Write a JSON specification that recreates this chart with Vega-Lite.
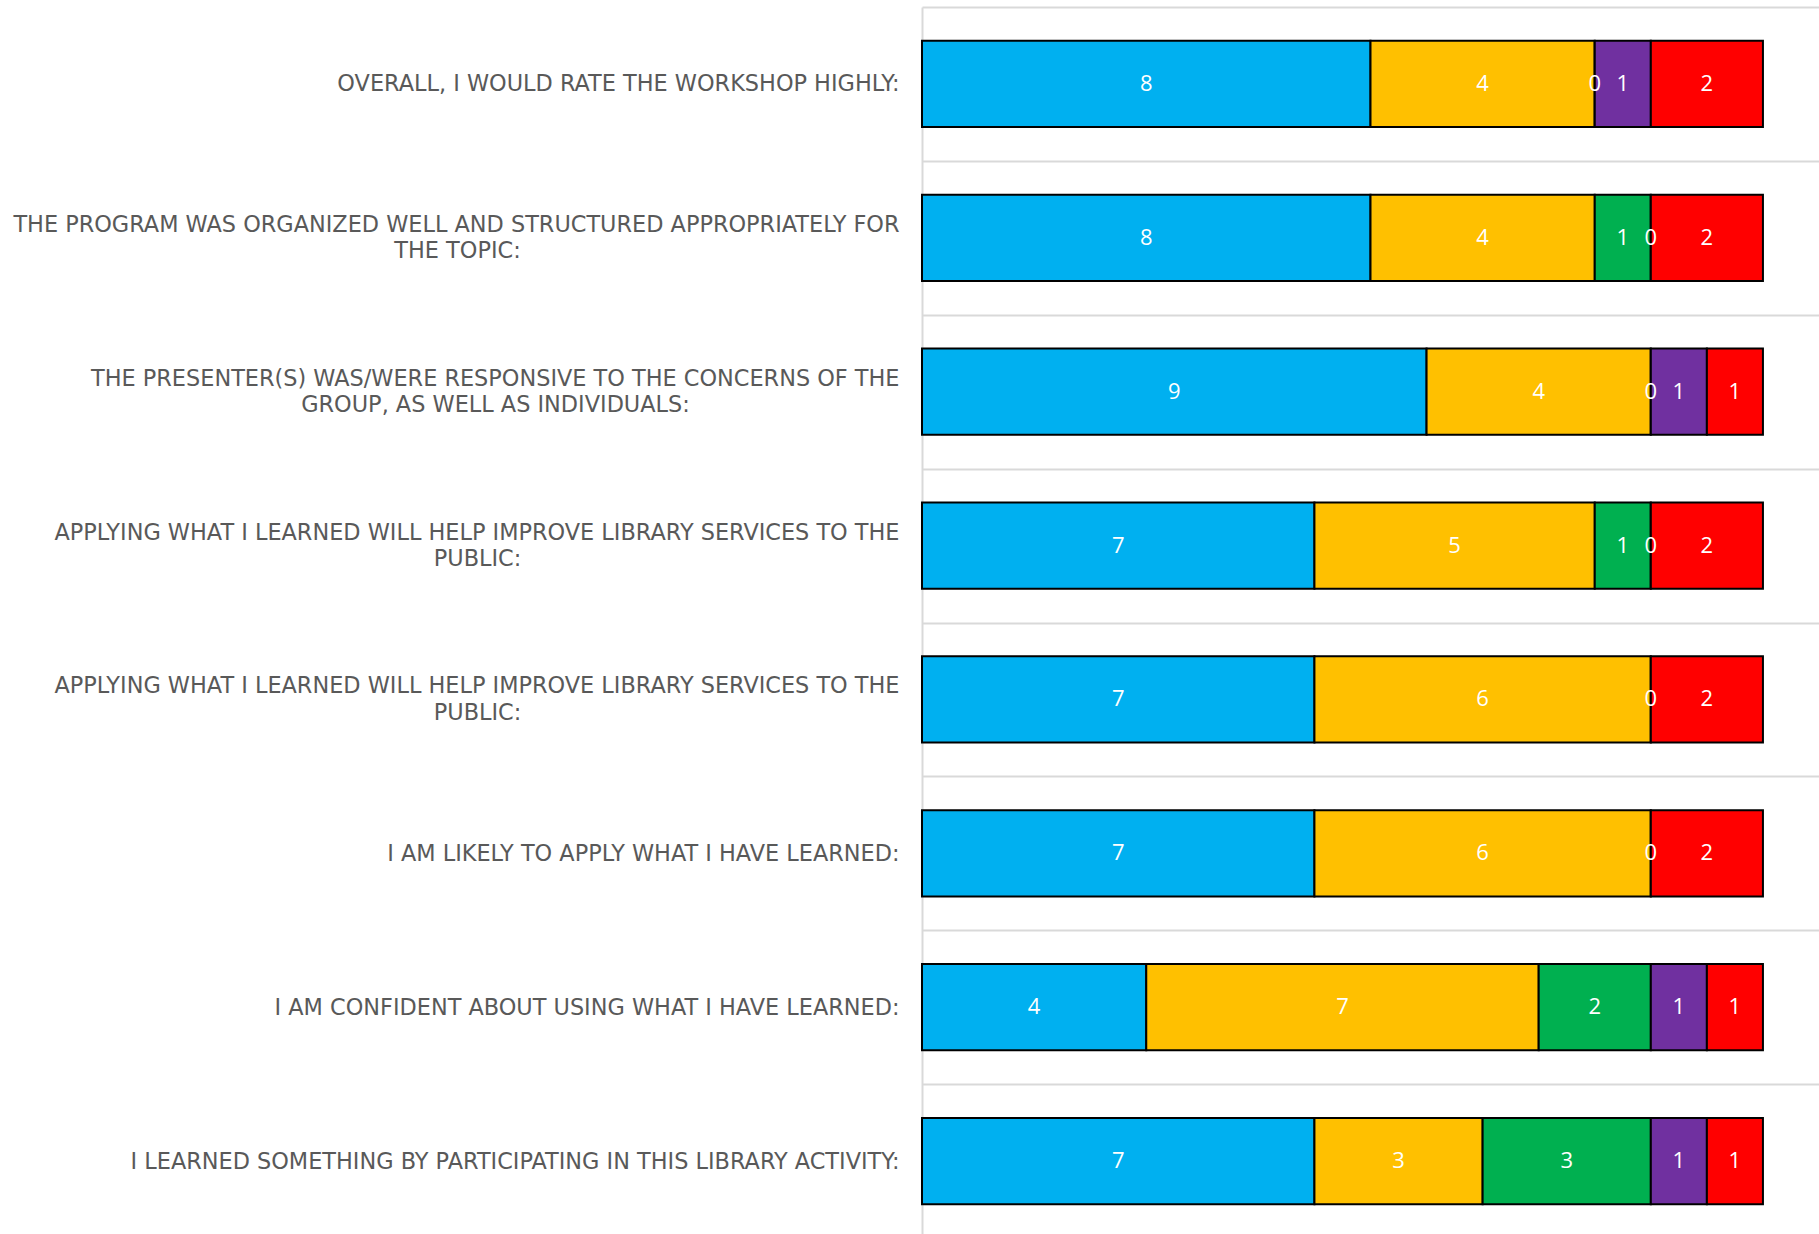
{
  "$schema": "https://vega.github.io/schema/vega-lite/v6.json",
  "autosize": {"type": "none"},
  "padding": {"left": 922, "top": 7, "right": 0, "bottom": 0},
  "width": 897,
  "height": 1231,
  "background": "white",
  "config": {"view": {"stroke": null}},
  "data": {
    "values": [
      {"row": 1, "rating": "Strongly agree", "order": 1, "value": 8},
      {"row": 1, "rating": "Agree", "order": 2, "value": 4},
      {"row": 1, "rating": "Neutral", "order": 3, "value": 0},
      {"row": 1, "rating": "Disagree", "order": 4, "value": 1},
      {"row": 1, "rating": "Strongly disagree", "order": 5, "value": 2},
      {"row": 2, "rating": "Strongly agree", "order": 1, "value": 8},
      {"row": 2, "rating": "Agree", "order": 2, "value": 4},
      {"row": 2, "rating": "Neutral", "order": 3, "value": 1},
      {"row": 2, "rating": "Disagree", "order": 4, "value": 0},
      {"row": 2, "rating": "Strongly disagree", "order": 5, "value": 2},
      {"row": 3, "rating": "Strongly agree", "order": 1, "value": 9},
      {"row": 3, "rating": "Agree", "order": 2, "value": 4},
      {"row": 3, "rating": "Neutral", "order": 3, "value": 0},
      {"row": 3, "rating": "Disagree", "order": 4, "value": 1},
      {"row": 3, "rating": "Strongly disagree", "order": 5, "value": 1},
      {"row": 4, "rating": "Strongly agree", "order": 1, "value": 7},
      {"row": 4, "rating": "Agree", "order": 2, "value": 5},
      {"row": 4, "rating": "Neutral", "order": 3, "value": 1},
      {"row": 4, "rating": "Disagree", "order": 4, "value": 0},
      {"row": 4, "rating": "Strongly disagree", "order": 5, "value": 2},
      {"row": 5, "rating": "Strongly agree", "order": 1, "value": 7},
      {"row": 5, "rating": "Agree", "order": 2, "value": 6},
      {"row": 5, "rating": "Neutral", "order": 3, "value": 0},
      {"row": 5, "rating": "Strongly disagree", "order": 5, "value": 2},
      {"row": 6, "rating": "Strongly agree", "order": 1, "value": 7},
      {"row": 6, "rating": "Agree", "order": 2, "value": 6},
      {"row": 6, "rating": "Neutral", "order": 3, "value": 0},
      {"row": 6, "rating": "Strongly disagree", "order": 5, "value": 2},
      {"row": 7, "rating": "Strongly agree", "order": 1, "value": 4},
      {"row": 7, "rating": "Agree", "order": 2, "value": 7},
      {"row": 7, "rating": "Neutral", "order": 3, "value": 2},
      {"row": 7, "rating": "Disagree", "order": 4, "value": 1},
      {"row": 7, "rating": "Strongly disagree", "order": 5, "value": 1},
      {"row": 8, "rating": "Strongly agree", "order": 1, "value": 7},
      {"row": 8, "rating": "Agree", "order": 2, "value": 3},
      {"row": 8, "rating": "Neutral", "order": 3, "value": 3},
      {"row": 8, "rating": "Disagree", "order": 4, "value": 1},
      {"row": 8, "rating": "Strongly disagree", "order": 5, "value": 1}
    ]
  },
  "transform": [
    {"stack": "value", "groupby": ["row"], "sort": [{"field": "order"}], "as": ["x0", "x1"]},
    {"calculate": "(datum.x0 + datum.x1) / 2", "as": "mid"}
  ],
  "resolve": {"axis": {"y": "independent"}},
  "layer": [
    {
      "mark": {"type": "bar", "stroke": "#000000", "strokeWidth": 2, "height": {"band": 0.56}},
      "encoding": {
        "y": {
          "field": "row",
          "type": "ordinal",
          "sort": "ascending",
          "scale": {"paddingInner": 0, "paddingOuter": 0},
          "axis": {
            "orient": "left",
            "title": null,
            "grid": true,
            "tickBand": "extent",
            "gridColor": "#D9D9D9",
            "gridWidth": 2,
            "domain": true,
            "domainColor": "#D9D9D9",
            "domainWidth": 2,
            "ticks": false,
            "labelPadding": 23,
            "labelFont": "DejaVu Sans",
            "labelFontSize": 22.4,
            "labelColor": "#595959",
            "labelLimit": 1200,
            "labelBaseline": "middle",
            "labelOffset": {"condition": {"test": "datum.value >= 2 && datum.value <= 5", "value": -13.5}, "value": 0},
            "labelExpr": "['OVERALL, I WOULD RATE THE WORKSHOP HIGHLY:', 'THE PROGRAM WAS ORGANIZED WELL AND STRUCTURED APPROPRIATELY FOR', 'THE PRESENTER(S) WAS/WERE RESPONSIVE TO THE CONCERNS OF THE', 'APPLYING WHAT I LEARNED WILL HELP IMPROVE LIBRARY SERVICES TO THE', 'APPLYING WHAT I LEARNED WILL HELP IMPROVE LIBRARY SERVICES TO THE', 'I AM LIKELY TO APPLY WHAT I HAVE LEARNED:', 'I AM CONFIDENT ABOUT USING WHAT I HAVE LEARNED:', 'I LEARNED SOMETHING BY PARTICIPATING IN THIS LIBRARY ACTIVITY:'][datum.value - 1]"
          }
        },
        "x": {"field": "x0", "type": "quantitative", "scale": {"domain": [0, 16], "nice": false, "zero": true}, "axis": null},
        "x2": {"field": "x1"},
        "color": {
          "field": "rating",
          "type": "nominal",
          "scale": {
            "domain": ["Strongly agree", "Agree", "Neutral", "Disagree", "Strongly disagree"],
            "range": ["#00B0F0", "#FFC000", "#00B050", "#7030A0", "#FF0000"]
          },
          "legend": null
        }
      }
    },
    {
      "mark": {"type": "text", "color": "white", "font": "Open Sans", "fontSize": 22, "align": "center", "baseline": "middle"},
      "encoding": {
        "y": {
          "field": "row",
          "type": "ordinal",
          "sort": "ascending",
          "axis": {
            "orient": "left",
            "offset": 0,
            "title": null,
            "grid": false,
            "domain": false,
            "ticks": false,
            "labelFont": "DejaVu Sans",
            "labelFontSize": 22.4,
            "labelColor": "#595959",
            "labelLimit": 1200,
            "labelBaseline": "middle",
            "labelAlign": "center",
            "labelOffset": 13.5,
            "labelPadding": {"condition": [{"test": "datum.value == 2", "value": 465}, {"test": "datum.value == 3", "value": 427}], "value": 445},
            "labelExpr": "['', 'THE TOPIC:', 'GROUP, AS WELL AS INDIVIDUALS:', 'PUBLIC:', 'PUBLIC:', '', '', ''][datum.value - 1]"
          }
        },
        "x": {"field": "mid", "type": "quantitative"},
        "text": {"field": "value", "type": "quantitative"}
      }
    }
  ]
}
